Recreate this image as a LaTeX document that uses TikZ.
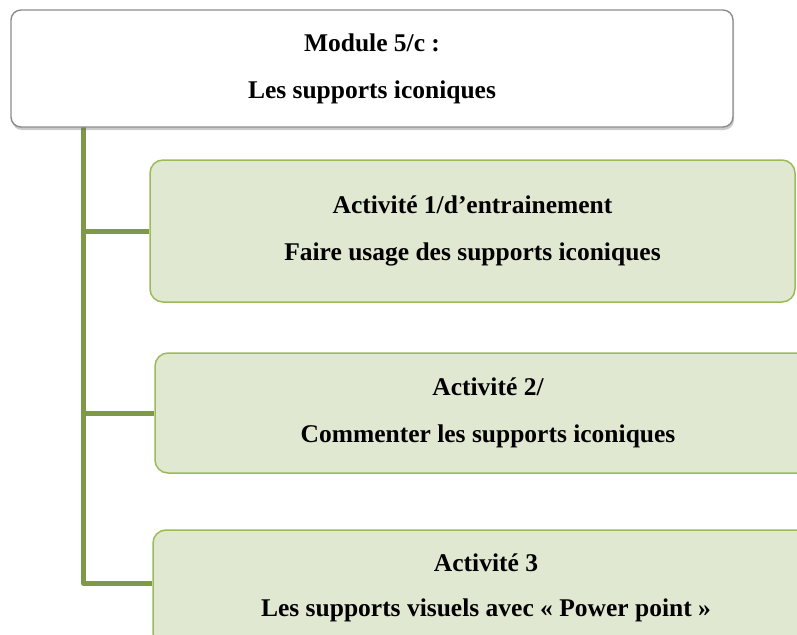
\documentclass[tikz,border=0pt]{standalone}
\usepackage{fontspec}
\setmainfont{Liberation Serif}
\usetikzlibrary{shadows,backgrounds}
\definecolor{olivefill}{HTML}{E0E8D2}
\definecolor{olivedraw}{HTML}{9BBB59}
\definecolor{olivestem}{HTML}{7E9A48}
\definecolor{greyedge}{HTML}{8C8C8C}
\begin{document}
\begin{tikzpicture}[
  x=1pt, y=-1pt,
  every node/.style={inner sep=0pt, align=center, text=black, font=\bfseries\fontsize{25.5}{47}\selectfont},
  modbox/.style={rectangle, rounded corners=10pt, draw=greyedge, line width=1.4pt, fill=white,
    drop shadow={shadow xshift=1pt, shadow yshift=-3pt, opacity=0.35, fill=black!60}},
  actbox/.style={rectangle, rounded corners=13pt, draw=olivedraw, line width=1.5pt, fill=olivefill},
  branch/.style={draw=olivestem, line width=5pt, line join=round}
]
  \useasboundingbox (0,0) rectangle (797,634);
  \clip (0,0) rectangle (797,634);
  \node[modbox, minimum width=722pt, minimum height=117pt] (mod) at (372,68.5) {Module 5/c :\\Les supports iconiques};
  \node[actbox, minimum width=645pt, minimum height=142pt] (act1) at (472.5,231) {Activité 1/d’entrainement\\Faire usage des supports iconiques};
  \node[actbox, minimum width=666pt, minimum height=120pt] (act2) at (488,413) {Activité 2/\\Commenter les supports iconiques};
  \node[actbox, minimum width=666pt, minimum height=116pt] (act3) at (486,588) {Activité 3\\[-2pt]Les supports visuels avec « Power point »};
  \coordinate (stem) at (83,127);
  % tree lines under the boxes
  \begin{pgfonlayer}{background}
    \draw[branch] (stem) |- ([yshift=5pt]act3.west);
    \draw[branch] (stem) |- (act1.west);
    \draw[branch] (stem) |- (act2.west);
  \end{pgfonlayer}
\end{tikzpicture}
\end{document}
